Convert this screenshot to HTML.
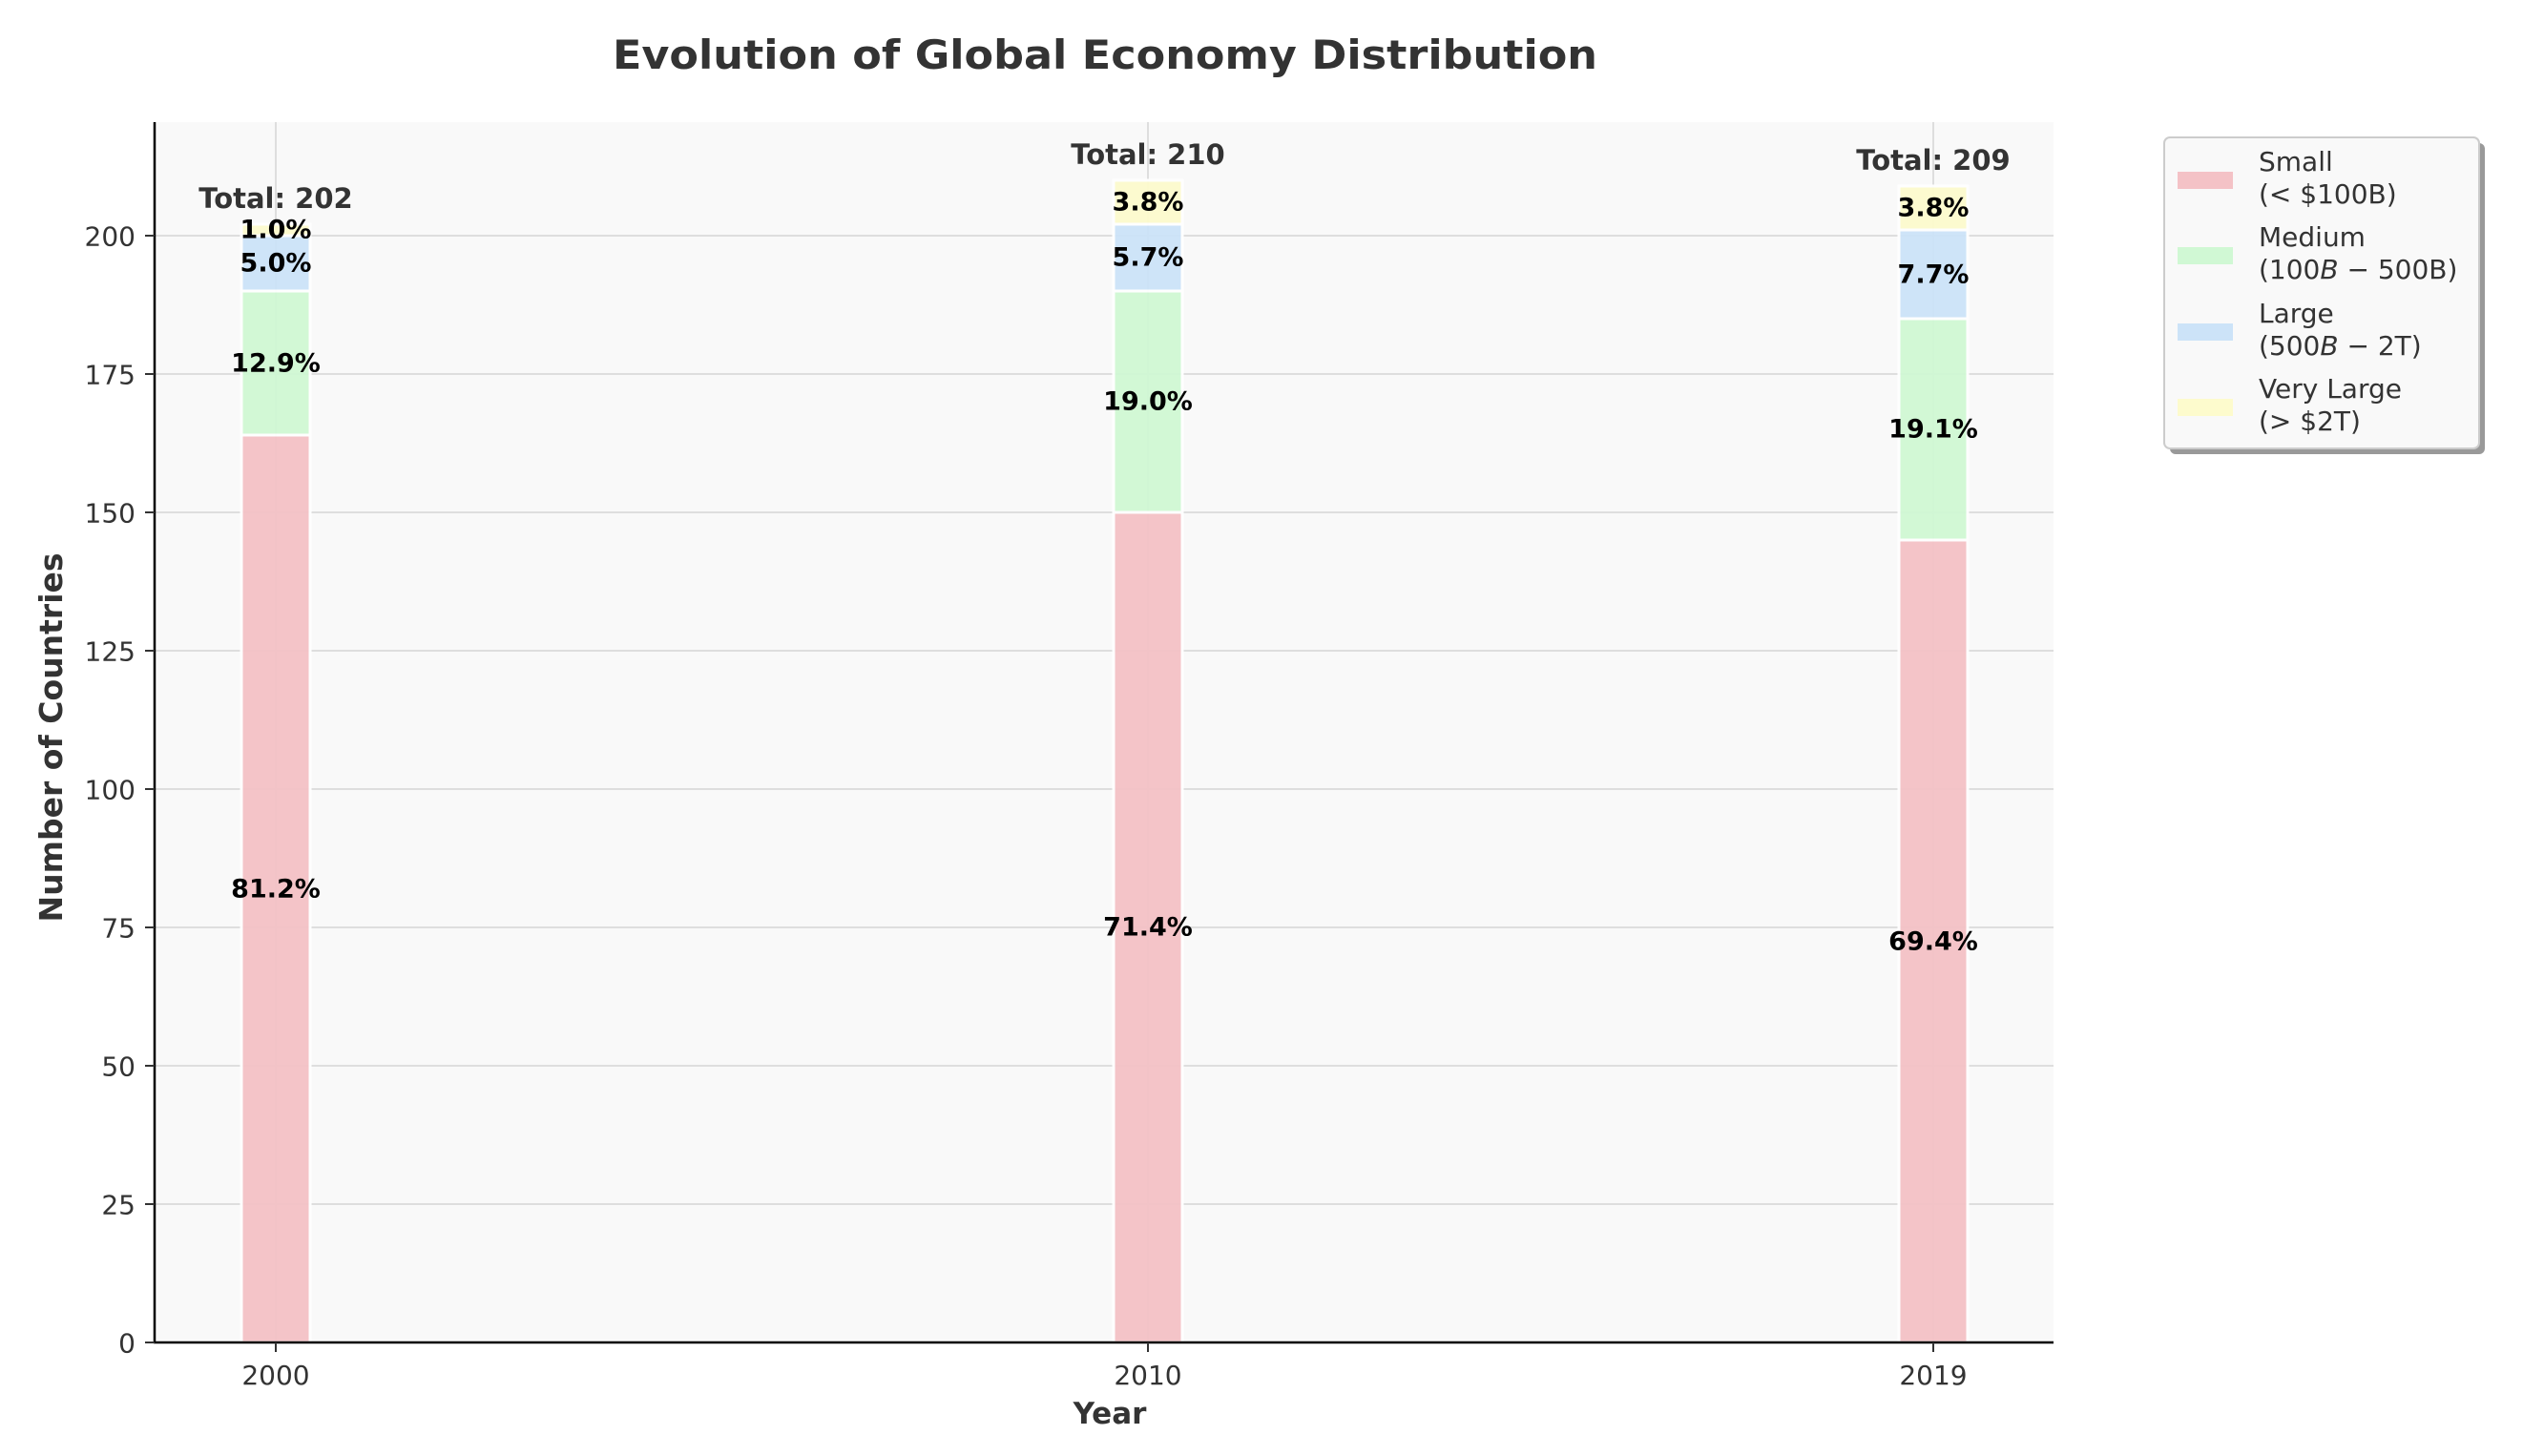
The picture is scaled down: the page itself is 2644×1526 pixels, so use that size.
<!DOCTYPE html>
<html><head><meta charset="utf-8"><style>body{margin:0;background:#fff}svg{display:block}</style></head>
<body>
<svg width="2644" height="1526" viewBox="0 0 2644 1526" xmlns="http://www.w3.org/2000/svg" font-family="DejaVu Sans, Liberation Sans, sans-serif">
<rect width="2644" height="1526" fill="#fff"/>
<text x="1158" y="72" text-anchor="middle" font-size="42" font-weight="bold" fill="#333" textLength="1032" lengthAdjust="spacingAndGlyphs">Evolution of Global Economy Distribution</text>
<rect x="162" y="128" width="1990" height="1279" fill="#f9f9f9"/>
<g stroke="#dedede" stroke-width="2">
<line x1="162" x2="2152" y1="1262" y2="1262"/><line x1="162" x2="2152" y1="1117" y2="1117"/>
<line x1="162" x2="2152" y1="972" y2="972"/><line x1="162" x2="2152" y1="827" y2="827"/>
<line x1="162" x2="2152" y1="682" y2="682"/><line x1="162" x2="2152" y1="537" y2="537"/>
<line x1="162" x2="2152" y1="392" y2="392"/><line x1="162" x2="2152" y1="247" y2="247"/>
<line x1="289" x2="289" y1="128" y2="1407"/><line x1="1203" x2="1203" y1="128" y2="1407"/><line x1="2026" x2="2026" y1="128" y2="1407"/>
</g>
<g stroke="#fff" stroke-width="3" opacity="0.95">
<rect x="253" y="456" width="72" height="951" fill="#f4c2c6"/>
<rect x="253" y="305" width="72" height="151" fill="#d0f8d4"/>
<rect x="253" y="247" width="72" height="58" fill="#cce3f8"/>
<rect x="253" y="235" width="72" height="12" fill="#fdfbcd"/>
<rect x="1167" y="537" width="72" height="870" fill="#f4c2c6"/>
<rect x="1167" y="305" width="72" height="232" fill="#d0f8d4"/>
<rect x="1167" y="235" width="72" height="70" fill="#cce3f8"/>
<rect x="1167" y="189" width="72" height="46" fill="#fdfbcd"/>
<rect x="1990" y="566" width="72" height="841" fill="#f4c2c6"/>
<rect x="1990" y="334" width="72" height="232" fill="#d0f8d4"/>
<rect x="1990" y="241" width="72" height="93" fill="#cce3f8"/>
<rect x="1990" y="195" width="72" height="46" fill="#fdfbcd"/>
</g>
<g font-size="27" font-weight="bold" fill="#000" text-anchor="middle" dominant-baseline="central">
<text x="289" y="932">81.2%</text><text x="289" y="381">12.9%</text><text x="289" y="276">5.0%</text><text x="289" y="241">1.0%</text>
<text x="1203" y="972">71.4%</text><text x="1203" y="421">19.0%</text><text x="1203" y="270">5.7%</text><text x="1203" y="212">3.8%</text>
<text x="2026" y="987">69.4%</text><text x="2026" y="450">19.1%</text><text x="2026" y="288">7.7%</text><text x="2026" y="218">3.8%</text>
</g>
<g font-size="29" font-weight="bold" fill="#333" text-anchor="middle" dominant-baseline="central">
<text x="289" y="208">Total: 202</text><text x="1203" y="162">Total: 210</text><text x="2026" y="168">Total: 209</text>
</g>
<g stroke="#000" stroke-width="2.5">
<line x1="162" y1="128" x2="162" y2="1408"/><line x1="161" y1="1407" x2="2152" y2="1407"/>
</g>
<g stroke="#333" stroke-width="2">
<line x1="152" x2="162" y1="1407" y2="1407"/><line x1="152" x2="162" y1="1262" y2="1262"/><line x1="152" x2="162" y1="1117" y2="1117"/>
<line x1="152" x2="162" y1="972" y2="972"/><line x1="152" x2="162" y1="827" y2="827"/><line x1="152" x2="162" y1="682" y2="682"/>
<line x1="152" x2="162" y1="537" y2="537"/><line x1="152" x2="162" y1="392" y2="392"/><line x1="152" x2="162" y1="247" y2="247"/>
<line x1="289" x2="289" y1="1407" y2="1417"/><line x1="1203" x2="1203" y1="1407" y2="1417"/><line x1="2026" x2="2026" y1="1407" y2="1417"/>
</g>
<g font-size="28" fill="#333" text-anchor="end" dominant-baseline="central">
<text x="142" y="1408">0</text><text x="142" y="1263">25</text><text x="142" y="1118">50</text><text x="142" y="973">75</text>
<text x="142" y="828">100</text><text x="142" y="683">125</text><text x="142" y="538">150</text><text x="142" y="393">175</text><text x="142" y="248">200</text>
</g>
<g font-size="28" fill="#333" text-anchor="middle">
<text x="289" y="1451">2000</text><text x="1203" y="1451">2010</text><text x="2026" y="1451">2019</text>
</g>
<text x="1163" y="1492" text-anchor="middle" font-size="31" font-weight="bold" fill="#333">Year</text>
<text transform="translate(65,773) rotate(-90)" text-anchor="middle" font-size="33" font-weight="bold" fill="#333">Number of Countries</text>
<rect x="2274" y="150" width="330" height="326" rx="6" fill="#999"/>
<rect x="2268" y="144" width="330" height="326" rx="6" fill="#f9f9f9" stroke="#ccc" stroke-width="2"/>
<rect x="2282" y="180" width="58" height="18" fill="#f4c2c6"/>
<rect x="2282" y="259" width="58" height="18" fill="#d0f8d4"/>
<rect x="2282" y="339" width="58" height="18" fill="#cce3f8"/>
<rect x="2282" y="418" width="58" height="18" fill="#fdfbcd"/>
<g font-size="28" fill="#333">
<text x="2367" y="179">Small</text><text x="2367" y="213">(&lt; $100B)</text>
<text x="2367" y="258">Medium</text><text x="2367" y="292">(100<tspan font-style="italic">B</tspan> − 500B)</text>
<text x="2367" y="338">Large</text><text x="2367" y="372">(500<tspan font-style="italic">B</tspan> − 2T)</text>
<text x="2367" y="417">Very Large</text><text x="2367" y="451">(&gt; $2T)</text>
</g>
</svg>
</body></html>
